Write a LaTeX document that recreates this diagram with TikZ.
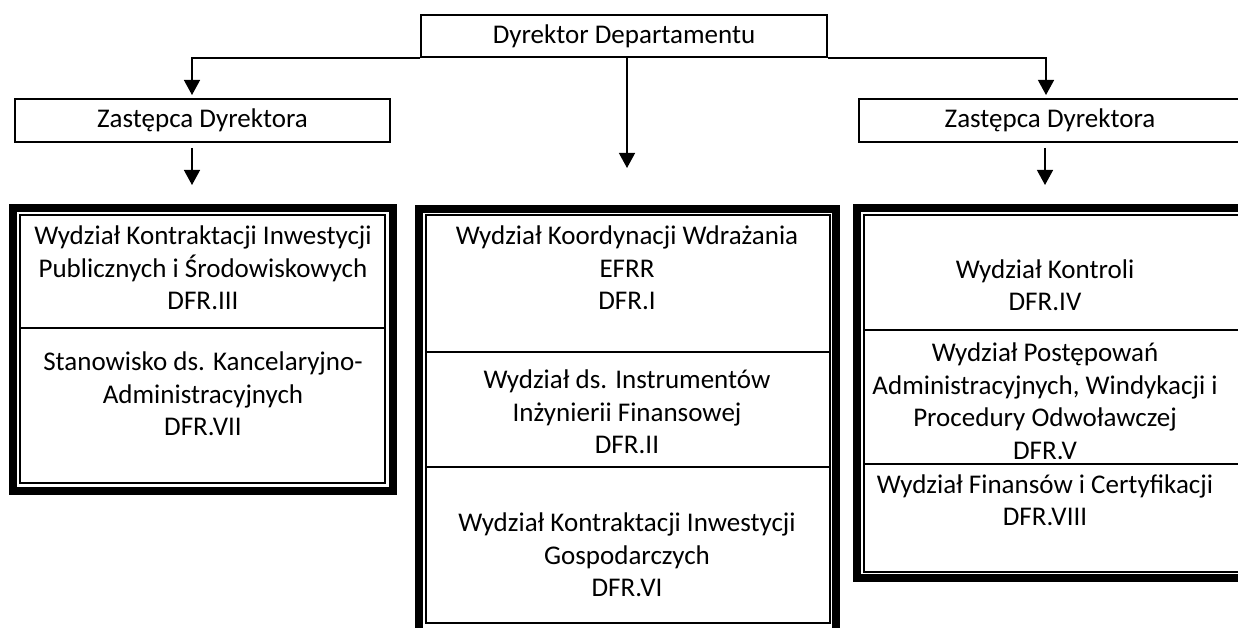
\documentclass[tikz,border=0pt]{standalone}
\usepackage{fontspec}
\setmainfont{Carlito}
\usetikzlibrary{arrows.meta}
\begin{document}
\begin{tikzpicture}[x=1pt,y=-1pt,
  txt/.style={font=\fontsize{27}{32.5}\selectfont},
  box/.style={txt, draw, line width=1.8pt, inner sep=0pt, minimum height=43pt},
  cell/.style={txt, align=center, inner sep=0pt},
  link/.style={line width=1.3pt},
  arrowlink/.style={link, -{Triangle[width=16pt,length=15pt]}},
  outerframe/.style={line width=8pt},
  innerframe/.style={line width=2pt},
  divider/.style={line width=1.6pt}]
\useasboundingbox (0,0) rectangle (1238,628);

% management boxes
\node[box, minimum width=406pt, minimum height=42pt] (dyr) at (624,36) {Dyrektor Departamentu};
\node[box, minimum width=375pt] (zl) at (202.5,120.5) {Zastępca Dyrektora};
\node[box, minimum width=382pt] (zr) at (1050,120.5) {Zastępca Dyrektora};

% arrow end points
\coordinate (zl-in) at (192,95);
\coordinate (zr-in) at (1046,95);
\coordinate (mid-in) at (627,168);
\coordinate (zl-from) at (192,148);
\coordinate (zl-to) at (192,185);
\coordinate (zr-from) at (1045,148);
\coordinate (zr-to) at (1045,185);

\draw[arrowlink] (dyr.south west) -| (zl-in);
\draw[arrowlink] (dyr.south east) -| (zr-in);
\draw[arrowlink] (mid-in |- dyr.south) -- (mid-in);
\draw[arrowlink] (zl-from) -- (zl-to);
\draw[arrowlink] (zr-from) -- (zr-to);

% left group frame
\draw[outerframe] (12.5,208.5) rectangle (392.5,490.5);
\draw[innerframe] (20,215) rectangle (385,483);
\draw[divider] (20,328) -- (385,328);

% middle group frame
\draw[outerframe] (419,209) rectangle (836,632);
\draw[innerframe] (425.5,215) rectangle (829.5,623);
\draw[divider] (425.5,352) -- (829.5,352);
\draw[divider] (425.5,467) -- (829.5,467);

% right group frame
\draw[outerframe] (857,208.5) rectangle (1250,578);
\draw[innerframe] (863.5,215) rectangle (1243,571.5);
\draw[divider] (863.5,330) -- (1243,330);
\draw[divider] (863.5,464) -- (1243,464);

% units
\node[cell] (l1) at (203,268) {Wydział Kontraktacji Inwestycji\\Publicznych i Środowiskowych\\DFR.III};
\node[cell] (l2) at (203,394) {Stanowisko ds. Kancelaryjno-\\Administracyjnych\\DFR.VII};
\node[cell] (m1) at (627,268) {Wydział Koordynacji Wdrażania\\EFRR\\DFR.I};
\node[cell] (m2) at (627,412) {Wydział ds. Instrumentów\\Inżynierii Finansowej\\DFR.II};
\node[cell] (m3) at (627,555) {Wydział Kontraktacji Inwestycji\\Gospodarczych\\DFR.VI};
\node[cell] (r1) at (1045,285) {Wydział Kontroli\\DFR.IV};
\node[cell] (r2) at (1045,401) {Wydział Postępowań\\Administracyjnych, Windykacji i\\Procedury Odwoławczej\\DFR.V};
\node[cell] (r3) at (1045,500) {Wydział Finansów i Certyfikacji\\DFR.VIII};
\end{tikzpicture}
\end{document}
